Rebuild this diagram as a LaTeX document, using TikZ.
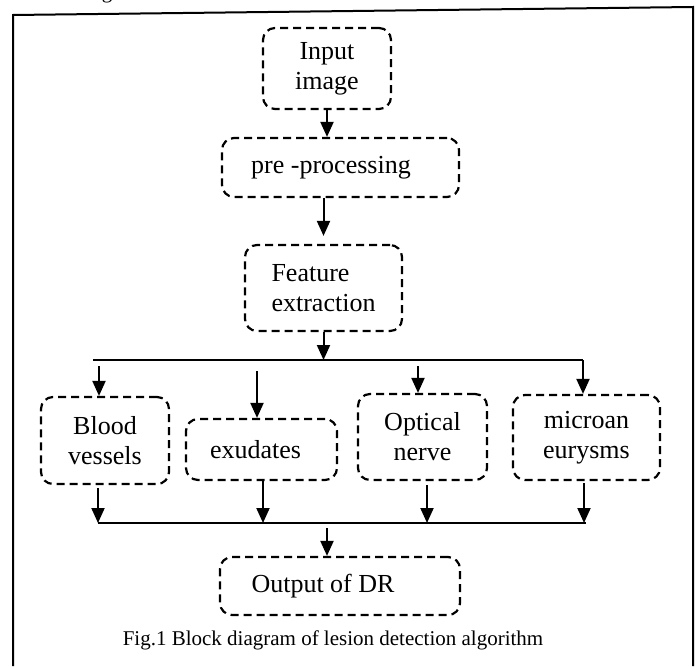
\documentclass[tikz,border=0pt]{standalone}
\usepackage{fontspec}
\setmainfont{Liberation Serif}
\usetikzlibrary{arrows.meta}
\tikzset{
  blk/.style={draw,line width=2.2pt,dash pattern=on 8pt off 5pt,rounded corners=12pt,
    align=center,inner sep=0pt,font=\fontsize{26}{30}\selectfont},
  arr/.style={->,line width=2pt},
  bus/.style={line width=2pt},
}
\begin{document}
\begin{tikzpicture}[>={Triangle[length=15pt,width=13pt]},x=1pt,y=-1pt]
			\useasboundingbox (0,0) rectangle (698,666);
			% frame of the figure
			\draw[line width=2pt] (13,666) -- (13,15) -- (693,7) -- (693,666);
			\node[font=\fontsize{21}{24}\selectfont,anchor=base,inner sep=0pt] (cut) at (107,-1) {g};
			% blocks
			\node[blk,minimum width=128pt,minimum height=81pt] (inp) at (327,68.5) {Input\\image};
			\node[blk,minimum width=237pt,minimum height=59pt] (pre) at (340.5,167.5) {pre -processing\kern19pt};
			\node[blk,align=left,minimum width=157pt,minimum height=86pt] (feat) at (323.5,288) {Feature\\extraction};
			\node[blk,minimum width=128pt,minimum height=87pt] (blood) at (105,440.5) {Blood\\vessels};
			\node[blk,minimum width=151pt,minimum height=61pt] (exu) at (261.5,449.5) {exudates\kern12pt};
			\node[blk,minimum width=129pt,minimum height=86pt] (opt) at (422.5,437) {Optical\\nerve};
			\node[blk,minimum width=147pt,minimum height=85pt] (micro) at (586.5,437.5) {microan\\eurysms};
			\node[blk,minimum width=240pt,minimum height=58pt] (out) at (340,586) {Output of DR\kern34pt};
			\node[font=\fontsize{21}{24}\selectfont,inner sep=0pt] (cap) at (333,640) {Fig.1 Block diagram of lesion detection algorithm};
			% splitting and joining lines
			\coordinate (sL) at (93,360);
			\coordinate (sR) at (583,360);
			\coordinate (jL) at (98,523);
			\coordinate (jR) at (586,523);
			\coordinate (b1) at (99,366);
			\coordinate (e1) at (257,371);
			\coordinate (o1) at (418,366);
			\coordinate (b2) at (98,488);
			\coordinate (e2) at (263,480);
			\coordinate (o2) at (427,485);
			\coordinate (m2) at (584,483);
			\coordinate (d1) at (327,528);
			% connectors
			\draw[arr] (inp.south) -- (inp.south |- pre.north);
			\draw[arr,shorten >=8pt] (pre.south -| feat.north) -- (feat.north);
			\draw[arr] (feat.south) -- (feat.south |- sL);
			\draw[bus] (sL) -- (sR);
			\draw[arr] (sR) -- (sR |- micro.north);
			\draw[arr] (b1) -- (b1 |- blood.north);
			\draw[arr] (e1) -- (e1 |- exu.north);
			\draw[arr] (o1) -- (o1 |- opt.north);
			\draw[arr] (b2) -- (b2 |- jL);
			\draw[arr] (e2) -- (e2 |- jL);
			\draw[arr] (o2) -- (o2 |- jL);
			\draw[arr] (m2) -- (m2 |- jL);
			\draw[bus] (jL) -- (jR);
			\draw[arr] (d1) -- (d1 |- out.north);
\end{tikzpicture}
\end{document}
